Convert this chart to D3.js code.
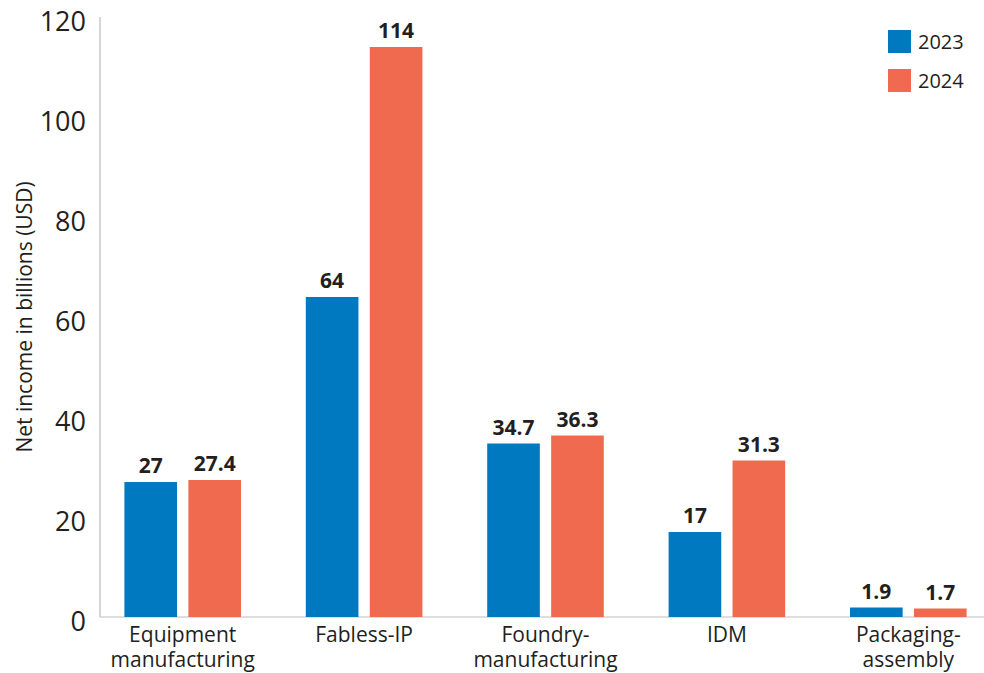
<!DOCTYPE html>
<html><head><meta charset="utf-8">
<script src="https://cdn.jsdelivr.net/npm/d3@7"></script>
<style>body{margin:0;background:#fff}svg{display:block;font-family:"Open Sans",sans-serif}</style>
</head><body><svg id="c" width="984" height="673"></svg>
<script>
const categories = ["Equipment manufacturing","Fabless-IP","Foundry-manufacturing","IDM","Packaging-assembly"];
const categoryLines = [["Equipment","manufacturing"],["Fabless-IP"],["Foundry-","manufacturing"],["IDM"],["Packaging-","assembly"]];
const seriesNames = ["2023","2024"];
const values2023 = [27, 64, 34.7, 17, 1.9];
const values2024 = [27.4, 114, 36.3, 31.3, 1.7];
const yTicks = [0,20,40,60,80,100,120];
const colors = ["#0079c1","#f06a50"];

const svg = d3.select("#c");
const y = d3.scaleLinear().domain([0,120]).range([617,17]);
const x0 = d3.scaleBand().domain(categories).range([92,999]);
const x1 = d3.scaleBand().domain(seriesNames).range([32.4,149]).paddingInner(0.177);
const series = [values2023, values2024];

svg.append("line").attr("x1",100).attr("x2",100).attr("y1",y(120)).attr("y2",y(0)).attr("stroke","#bdbdbd").attr("stroke-width",1.2);
svg.append("line").attr("x1",100).attr("x2",984).attr("y1",y(0)).attr("y2",y(0)).attr("stroke","#bdbdbd").attr("stroke-width",1.2);

const ya = svg.append("g").attr("transform","translate(100,0)")
  .call(d3.axisLeft(y).tickValues(yTicks).tickSize(0).tickPadding(14));
ya.select(".domain").remove();
ya.selectAll("text").attr("font-size",27).attr("fill","#231f20").attr("font-family","'Open Sans',sans-serif").attr("dy","0.5em");

svg.append("text").attr("transform","translate(32,317) rotate(-90)").attr("text-anchor","middle")
  .attr("font-size",21).attr("fill","#231f20").text("Net income in billions (USD)");

categories.forEach((c,i)=>{
  const g = svg.append("g").attr("transform",`translate(${x0(c)},0)`);
  seriesNames.forEach((s,j)=>{
    const v = series[j][i];
    g.append("rect").attr("x",x1(s)).attr("width",x1.bandwidth()).attr("y",y(v)).attr("height",y(0)-y(v)).attr("fill",colors[j]);
    g.append("text").attr("x",x1(s)+x1.bandwidth()/2).attr("y",y(v)-9).attr("text-anchor","middle")
      .attr("font-size",21).attr("font-weight","bold").attr("fill","#231f20").text(v);
  });
  const t = g.append("text").attr("text-anchor","middle").attr("font-size",21).attr("fill","#231f20");
  categoryLines[i].forEach((l,k)=>{
    t.append("tspan").attr("x",x0.bandwidth()/2).attr("y",642+k*25).text(l);
  });
});

seriesNames.forEach((s,j)=>{
  svg.append("rect").attr("x",888).attr("y",30+j*39).attr("width",23).attr("height",23).attr("fill",colors[j]);
  svg.append("text").attr("x",918).attr("y",49+j*39).attr("font-size",20).attr("fill","#231f20").text(s);
});
</script></body></html>
